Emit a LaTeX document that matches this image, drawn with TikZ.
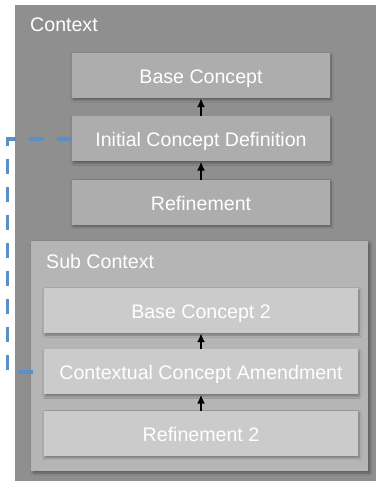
\documentclass[tikz,border=0pt]{standalone}
\usepackage{fontspec}
\setmainfont{Liberation Sans}
\usepackage{tikz}
\usetikzlibrary{arrows.meta,positioning,shadows.blur}
\definecolor{ctxgray}{HTML}{8F8F8F}
\definecolor{subgray}{HTML}{B5B5B5}
\definecolor{boxgray}{HTML}{ADADAD}
\definecolor{subboxgray}{HTML}{CBCBCB}
\definecolor{linkblue}{HTML}{5B8FC9}

\begin{document}
\begin{tikzpicture}[
  x=1pt, y=1pt,
  lbl/.style={font=\fontsize{19.6}{23}\selectfont, text=white, inner sep=0pt},
  concept/.style={rectangle, fill=boxgray, minimum width=258pt, minimum height=45pt, inner sep=0pt, lbl,
    text height=15.5pt, text depth=0pt,
    blur shadow={shadow xshift=1pt, shadow yshift=-2pt, shadow blur steps=6, shadow opacity=35}},
  subconcept/.style={concept, fill=subboxgray, minimum width=314pt},
  arrow/.style={-{Latex[length=9pt,width=8pt]}, line width=1.8pt, draw=black},
  link/.style={line width=3.6pt, draw=linkblue, dash pattern=on 15pt off 13pt}
]
\useasboundingbox (0,0) rectangle (376,-481);
% context areas
\fill[ctxgray] (15,-5) rectangle (376,-481);
\fill[subgray, blur shadow={shadow xshift=2pt, shadow yshift=-2pt, shadow blur steps=6, shadow opacity=35}]
  (31,-241) rectangle (368,-471);
\node[lbl, anchor=base west] (ctx) at (30,-32) {Context};
\node[lbl, anchor=base west] (subctx) at (46,-268) {Sub Context};
% concepts of the context
\node[concept] (base) at (201,-75.5) {Base Concept};
\node[concept, below=18pt of base] (init) {Initial Concept Definition};
\node[concept, below=18pt of init] (refine) {Refinement};
% concepts of the sub context
\node[subconcept] (base2) at (201,-310.5) {Base Concept 2};
\node[subconcept, below=16pt of base2] (amend) {Contextual Concept Amendment};
\node[subconcept, below=16pt of amend] (refine2) {Refinement 2};
\draw[arrow] (init) -- (base);
\draw[arrow] (refine) -- (init);
\draw[arrow] (amend) -- (base2);
\draw[arrow] (refine2) -- (amend);
% amendment link
\coordinate (turn) at (7.5,0);
\draw[link] (init.west) -- (init.west -| turn) -- (amend.west -| turn) -- (amend.west);
\end{tikzpicture}
\end{document}
